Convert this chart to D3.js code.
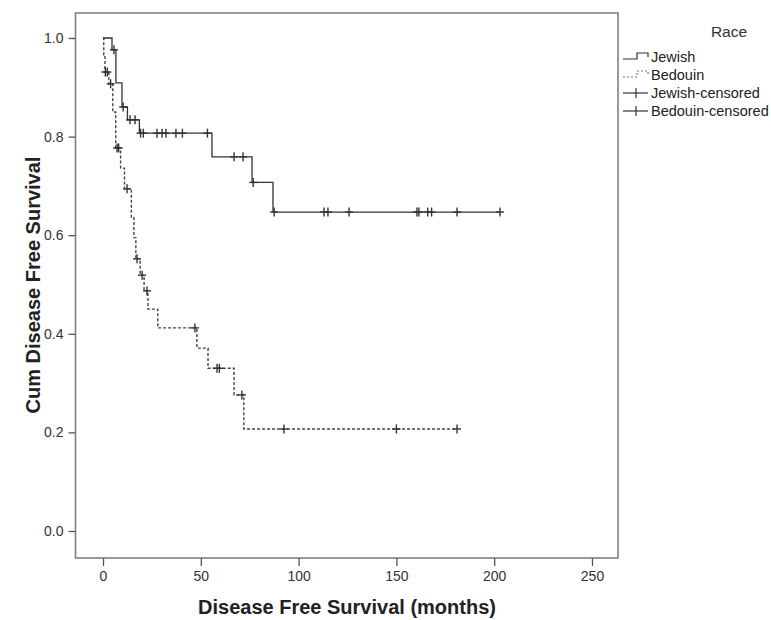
<!DOCTYPE html>
<html><head><meta charset="utf-8">
<script src="https://cdn.jsdelivr.net/npm/d3@7"></script>
<style>body{margin:0;background:#fff;font-family:Arial,"Liberation Sans",sans-serif;}</style>
</head><body>
<svg id="c" width="771" height="620"></svg>
<script>
// ---- data ----
const jewishTimes = [0, 4.6, 6.6, 9.7, 12.5, 18.6, 55.7, 76.2, 86.9, 203];
const jewishSurv  = [1.0, 0.976, 0.909, 0.86, 0.834, 0.807, 0.759, 0.707, 0.647, 0.647];
const jewishCensored = [5.6, 10.3, 13.8, 16.4, 19.2, 20.6, 27.6, 30.2, 32.2, 37.3, 40.6, 53.4, 67, 71.6, 76.8, 87.5, 113, 115, 125.8, 160.5, 161.5, 166, 168, 181, 203];
const bedouinTimes = [0, 0.4, 1.0, 3.0, 5.0, 6.5, 9.0, 11.0, 14.5, 15.8, 16.8, 19.0, 21.0, 23.0, 28.0, 48.0, 53.7, 67.0, 72.0, 181];
const bedouinSurv  = [1.0, 0.966, 0.931, 0.907, 0.85, 0.777, 0.736, 0.694, 0.637, 0.595, 0.552, 0.519, 0.487, 0.45, 0.412, 0.371, 0.33, 0.276, 0.207, 0.207];
const bedouinCensored = [1.2, 2.2, 3.9, 7.2, 8.0, 12.3, 17.4, 20.0, 22.5, 47.0, 58.3, 59.5, 71.0, 92.5, 150.0, 181.0];
const xTicks = [0, 50, 100, 150, 200, 250];
const yTicks = [0.0, 0.2, 0.4, 0.6, 0.8, 1.0];
const legendLabels = ["Jewish", "Bedouin", "Jewish-censored", "Bedouin-censored"];

// ---- layout ----
const svg = d3.select("#c");
const L = 75.5, R = 618, T = 13, B = 558;
const x = d3.scaleLinear().domain([0, 250]).range([103, 592]);
const y = d3.scaleLinear().domain([0, 1]).range([531, 38]);
const lineCol = "#333";
const FF = "Arial, 'Liberation Sans', sans-serif";

svg.append("rect").attr("x", L).attr("y", T).attr("width", R - L).attr("height", B - T)
  .attr("fill", "none").attr("stroke", "#808080").attr("stroke-width", 1.6);

// axes
const yAx = svg.append("g").attr("transform", `translate(${L},0)`)
  .call(d3.axisLeft(y).tickValues(yTicks).tickFormat(d3.format(".1f")).tickSize(7).tickPadding(5));
const xAx = svg.append("g").attr("transform", `translate(0,${B})`)
  .call(d3.axisBottom(x).tickValues(xTicks).tickFormat(d3.format("d")).tickSize(8).tickPadding(5));
[yAx, xAx].forEach(g => {
  g.select(".domain").remove();
  g.selectAll("line").attr("stroke", "#555").attr("stroke-width", 1.3);
  g.selectAll("text").attr("fill", "#333").style("font-size", "14px").style("font-family", FF);
});

// axis titles
svg.append("text").attr("x", 347).attr("y", 614).attr("text-anchor", "middle")
  .style("font-size", "20px").style("font-weight", "bold").style("font-family", FF).attr("fill", "#222")
  .text("Disease Free Survival (months)");
svg.append("text").attr("transform", "translate(40,285) rotate(-90)").attr("text-anchor", "middle")
  .style("font-size", "20px").style("font-weight", "bold").style("font-family", FF).attr("fill", "#222")
  .text("Cum Disease Free Survival");

// curves
function stepVal(times, surv, t) {
  let v = surv[0];
  for (let i = 0; i < times.length; i++) if (times[i] <= t) v = surv[i];
  return v;
}
const line = d3.line().x(d => x(d[0])).y(d => y(d[1])).curve(d3.curveStepAfter);
const jData = jewishTimes.map((t, i) => [t, jewishSurv[i]]);
const bData = bedouinTimes.map((t, i) => [t, bedouinSurv[i]]);

svg.append("path").attr("d", line(bData)).attr("fill", "none").attr("stroke", "#444")
  .attr("stroke-width", 1.4).attr("stroke-dasharray", "3,2");
svg.append("path").attr("d", line(jData)).attr("fill", "none").attr("stroke", lineCol)
  .attr("stroke-width", 1.3);

function censor(times, surv, cens, col) {
  const g = svg.append("g");
  cens.forEach(t => {
    const cx = x(t), cy = y(stepVal(times, surv, t));
    g.append("line").attr("x1", cx).attr("x2", cx).attr("y1", cy - 4.5).attr("y2", cy + 4.5)
      .attr("stroke", col).attr("stroke-width", 1.4);
    g.append("line").attr("x1", cx - 4).attr("x2", cx + 4).attr("y1", cy).attr("y2", cy)
      .attr("stroke", col).attr("stroke-width", 1.4);
  });
}
censor(jewishTimes, jewishSurv, jewishCensored, lineCol);
censor(bedouinTimes, bedouinSurv, bedouinCensored, "#333");

// legend
const lg = svg.append("g").style("font-family", FF);
lg.append("text").attr("x", 729).attr("y", 37).attr("text-anchor", "middle")
  .style("font-size", "15.5px").attr("fill", "#333").text("Race");
const ly = [57, 75, 93, 111];
legendLabels.forEach((lab, i) => {
  lg.append("text").attr("x", 651).attr("y", ly[i] + 5).style("font-size", "14.5px")
    .attr("fill", "#222").text(lab);
});
lg.append("path").attr("d", `M623,${ly[0]+2}H637V${ly[0]-4}H648V${ly[0]}`)
  .attr("fill", "none").attr("stroke", lineCol).attr("stroke-width", 1.2);
lg.append("path").attr("d", `M623,${ly[1]+2}H637V${ly[1]-4}H648V${ly[1]}`)
  .attr("fill", "none").attr("stroke", "#777").attr("stroke-width", 1.2).attr("stroke-dasharray", "2,2");
[2, 3].forEach(i => {
  lg.append("line").attr("x1", 623).attr("x2", 648).attr("y1", ly[i]).attr("y2", ly[i])
    .attr("stroke", lineCol).attr("stroke-width", 1.2);
  lg.append("line").attr("x1", 636).attr("x2", 636).attr("y1", ly[i] - 5).attr("y2", ly[i] + 5)
    .attr("stroke", lineCol).attr("stroke-width", 1.2);
});
</script>
</body></html>
